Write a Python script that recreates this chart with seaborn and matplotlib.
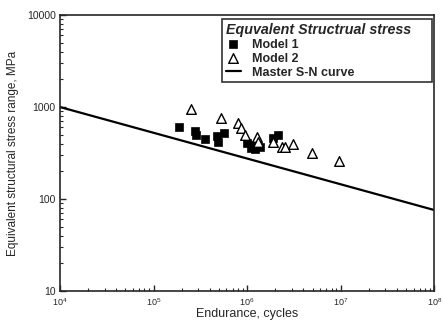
"""
S-N plot: equivalent structural stress range vs endurance
"""

import numpy as np
import pandas as pd
import matplotlib
matplotlib.use('Agg')
import matplotlib.pyplot as plt
import seaborn as sns

# Model 1 (filled squares)
m1_cycles = [1.87e5, 2.78e5, 2.85e5, 3.58e5, 4.74e5, 5.59e5, 4.93e5,
             1.00e6, 1.10e6, 1.22e6, 1.38e6, 1.17e6, 1.91e6, 2.16e6]
m1_stress = [601, 552, 497, 446, 484, 526, 413,
             409, 355, 347, 370, 386, 457, 497]

# Model 2 (open triangles)
m2_cycles = [2.50e5, 5.23e5, 7.94e5, 8.55e5, 9.50e5, 1.27e6, 1.32e6,
             1.88e6, 2.35e6, 2.55e6, 3.08e6, 4.92e6, 9.70e6]
m2_stress = [944, 753, 675, 586, 497, 476, 420,
             420, 370, 365, 393, 314, 261]

# master S-N curve end points
curve_cycles = [1e4, 1e8]
curve_stress = [1000, 76]


def main():
    sns.set_style('ticks')
    plt.rcParams['font.family'] = ['Liberation Sans', 'DejaVu Sans']
    plt.rcParams['mathtext.fontset'] = 'custom'
    plt.rcParams['mathtext.rm'] = 'Liberation Sans'

    fig = plt.figure(figsize=(4.43, 3.26), dpi=100)
    ax = fig.add_axes([0.1354, 0.107, 0.845, 0.847])

    m1 = pd.DataFrame({'N': m1_cycles, 'S': m1_stress})
    m2 = pd.DataFrame({'N': m2_cycles, 'S': m2_stress})
    curve = pd.DataFrame({'N': curve_cycles, 'S': curve_stress})

    sns.lineplot(data=curve, x='N', y='S', ax=ax, color='black', lw=1.6,
                 label='Master S-N curve')
    sns.scatterplot(data=m1, x='N', y='S', ax=ax, marker='s', s=36,
                    color='black', edgecolor='black', label='Model 1', zorder=3)
    sns.scatterplot(data=m2, x='N', y='S', ax=ax, marker='^', s=48,
                    facecolor='white', edgecolor='black', linewidth=1.0,
                    label='Model 2', zorder=4)

    ax.set_xscale('log')
    ax.set_yscale('log')
    ax.set_xlim(1e4, 1e8)
    ax.set_ylim(10, 10000)
    ax.set_yticks([10, 100, 1000, 10000])
    ax.set_yticklabels(['10', '100', '1000', '10000'])
    ax.set_xticks([1e4, 1e5, 1e6, 1e7, 1e8])
    ax.set_xticklabels([r'$\mathrm{10^4}$', r'$\mathrm{10^5}$', r'$\mathrm{10^6}$',
                        r'$\mathrm{10^7}$', r'$\mathrm{10^8}$'])

    ax.tick_params(which='both', direction='in', top=False, right=False)
    ax.tick_params(which='major', length=4, width=1, pad=3)
    ax.tick_params(axis='y', which='major', labelsize=7.5)
    ax.tick_params(axis='x', which='major', labelsize=6.5, pad=4)
    ax.tick_params(which='minor', length=2.5, width=0.8)
    for sp in ax.spines.values():
        sp.set_linewidth(1.2)
        sp.set_visible(True)

    ax.set_xlabel('Endurance, cycles', fontsize=9, labelpad=0)
    ax.set_ylabel('Equivalent structural stress range, MPa', fontsize=8.5,
                  labelpad=6)

    # legend order as in the original, box stretched to the original width
    handles, labels = ax.get_legend_handles_labels()
    order = [labels.index('Model 1'), labels.index('Model 2'),
             labels.index('Master S-N curve')]
    leg = ax.legend([handles[i] for i in order], [labels[i] for i in order],
                    title='Equvalent Structrual stress',
                    loc='upper left', bbox_to_anchor=(0.433, 0.0, 0.562, 0.985),
                    mode='expand', borderaxespad=0.0,
                    frameon=True, fancybox=False, fontsize=9,
                    title_fontproperties={'weight': 'bold', 'style': 'italic',
                                          'size': 10.3},
                    borderpad=0.3, labelspacing=0.15, handlelength=1.2,
                    handletextpad=0.9)
    leg.get_frame().set_edgecolor('black')
    leg.get_frame().set_linewidth(1.2)
    for t in leg.get_texts():
        t.set_fontweight('bold')
    leg._legend_box.align = 'left'

    fig.savefig('out.png', dpi=100, facecolor='white')


if __name__ == '__main__':
    main()
